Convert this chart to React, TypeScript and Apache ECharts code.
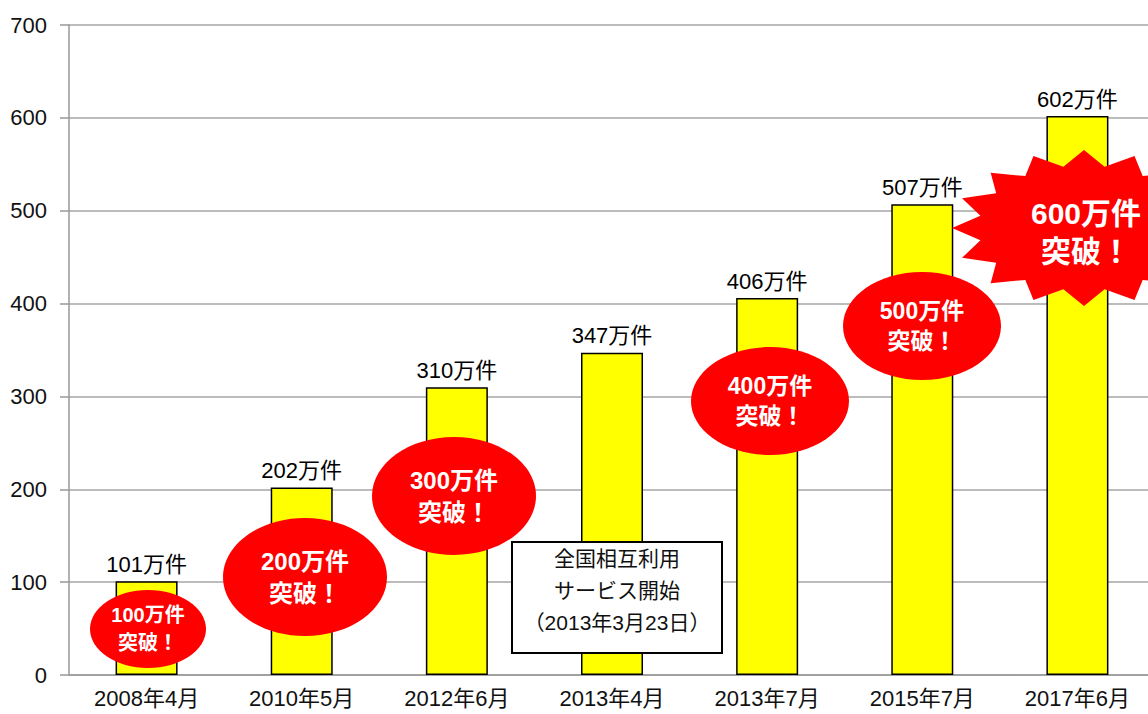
import React, { useEffect, useRef } from "react";
import * as echarts from "echarts";

const categories = ["2008年4月", "2010年5月", "2012年6月", "2013年4月", "2013年7月", "2015年7月", "2017年6月"];
const values = [101, 202, 310, 347, 406, 507, 602];
const yTicks = [0, 100, 200, 300, 400, 500, 600, 700];
const badges = ["100万件\n突破！", "200万件\n突破！", "300万件\n突破！", "400万件\n突破！", "500万件\n突破！", "600万件\n突破！"];
const noteText = "全国相互利用\nサービス開始\n（2013年3月23日）";

const FONT = "'Liberation Sans', 'Noto Sans CJK JP', sans-serif";

function starPoints(cx: number, cy: number, rx: number, ry: number, ratio: number, n: number) {
  const pts: number[][] = [];
  for (let i = 0; i < n * 2; i++) {
    const a = -Math.PI / 2 + (i * Math.PI) / n;
    const r = i % 2 === 0 ? 1 : ratio;
    pts.push([cx + Math.cos(a) * rx * r, cy + Math.sin(a) * ry * r]);
  }
  return pts;
}

export default function App() {
  const ref = useRef<HTMLDivElement>(null);
  useEffect(() => {
    if (!ref.current) return;
    const chart = echarts.init(ref.current, null, { renderer: "svg" });
    const ellipses = [
      { cx: 148, cy: 629, rx: 58, ry: 39, fs: 20, lh: 28 },
      { cx: 305, cy: 577, rx: 82, ry: 59, fs: 24, lh: 32 },
      { cx: 454, cy: 496, rx: 82, ry: 59, fs: 24, lh: 32 },
      { cx: 770, cy: 401, rx: 79, ry: 54, fs: 23, lh: 30 },
      { cx: 922, cy: 326, rx: 79, ry: 54, fs: 23, lh: 30 },
    ];
    const graphics: any[] = [];
    ellipses.forEach((e, i) => {
      graphics.push({
        type: "ellipse",
        shape: { cx: e.cx, cy: e.cy, rx: e.rx, ry: e.ry },
        style: { fill: "#ff0000" },
        z: 100,
      });
      graphics.push({
        type: "text",
        x: e.cx,
        y: e.cy,
        z: 101,
        style: {
          text: badges[i],
          fill: "#ffffff",
          font: `bold ${e.fs}px ${FONT}`,
          align: "center",
          verticalAlign: "middle",
          lineHeight: e.lh,
        },
      });
    });
    graphics.push({
      type: "polygon",
      shape: { points: starPoints(1084, 228, 132, 78, 0.8, 16) },
      style: { fill: "#ff0000" },
      z: 100,
    });
    graphics.push({
      type: "text",
      x: 1086,
      y: 232,
      z: 101,
      style: {
        text: badges[5],
        fill: "#ffffff",
        font: `bold 30px ${FONT}`,
        align: "center",
        verticalAlign: "middle",
        lineHeight: 38,
      },
    });
    graphics.push({
      type: "rect",
      shape: { x: 512, y: 542, width: 210, height: 111 },
      style: { fill: "#ffffff", stroke: "#000000", lineWidth: 2 },
      z: 100,
    });
    graphics.push({
      type: "text",
      x: 617,
      y: 590,
      z: 101,
      style: {
        text: noteText,
        fill: "#111111",
        font: `21px ${FONT}`,
        align: "center",
        verticalAlign: "middle",
        lineHeight: 32,
      },
    });

    chart.setOption({
      animation: false,
      backgroundColor: "#ffffff",
      grid: { left: 69, top: 25, width: 1086, height: 650, containLabel: false },
      xAxis: {
        type: "category",
        data: categories,
        axisLine: { show: true, lineStyle: { color: "#999999", width: 1.5 } },
        axisTick: { show: false },
        axisLabel: { color: "#111111", fontSize: 22, fontFamily: FONT, margin: 12 },
      },
      yAxis: {
        type: "value",
        min: 0,
        max: 700,
        interval: 100,
        axisLine: { show: true, lineStyle: { color: "#999999", width: 1.5 } },
        axisTick: { show: true, length: 9, lineStyle: { color: "#999999", width: 1.5 } },
        axisLabel: {
          color: "#111111",
          fontSize: 22,
          fontFamily: FONT,
          margin: 22,
          formatter: (v: number) => (yTicks.includes(v) ? String(v) : ""),
        },
        splitLine: { show: true, lineStyle: { color: "#a6a6a6", width: 1.5 } },
      },
      series: [
        {
          type: "bar",
          data: values,
          barWidth: 62,
          itemStyle: { color: "#ffff00", borderColor: "#000000", borderWidth: 1.5 },
          label: {
            show: true,
            position: "top",
            distance: 6,
            color: "#000000",
            fontSize: 22,
            fontFamily: FONT,
            formatter: (p: any) => `${p.value}万件`,
          },
        },
      ],
      graphic: graphics,
    });
    return () => chart.dispose();
  }, []);
  return (
    <div
      ref={ref}
      style={{ position: "fixed", left: 0, top: 0, width: 1160, height: 714, background: "#fff" }}
    />
  );
}
